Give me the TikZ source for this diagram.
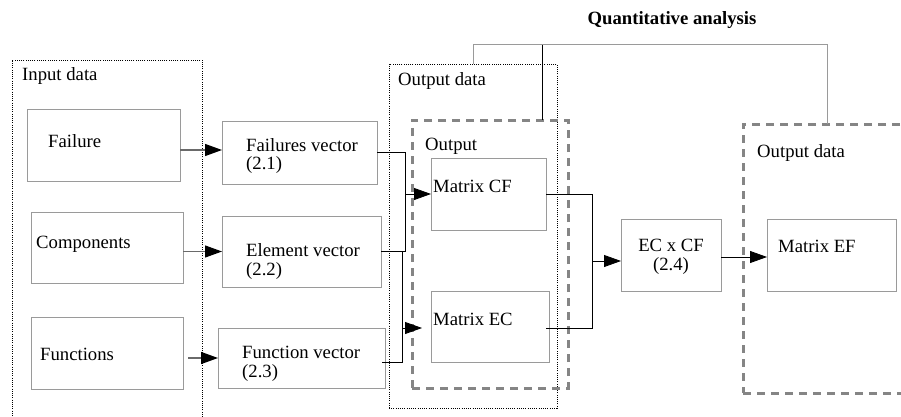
\documentclass[tikz,border=0pt]{standalone}
\usepackage{fontspec}
\setmainfont{Liberation Serif}
\newfontfamily\tnr{Liberation Serif}
\usetikzlibrary{arrows.meta,calc}
\definecolor{boxgray}{HTML}{9A9A9A}
\definecolor{dashgray}{HTML}{858585}
\definecolor{linegray}{HTML}{6A6A6A}
\tikzset{
  box/.style={draw=boxgray, line width=0.9pt, inner sep=0pt, outer sep=0pt, anchor=north west},
  dotbox/.style={draw=black, line width=0.8pt, dash pattern=on 1pt off 1.2pt, inner sep=0pt, outer sep=0pt, anchor=north west},
  dashbox/.style={draw=dashgray, line width=3pt, dash pattern=on 8pt off 6pt, inner sep=0pt, outer sep=0pt, anchor=north west},
  txt/.style={anchor=base west, inner sep=0pt, font=\tnr\fontsize{18.7}{22}\selectfont},
  conn/.style={draw=black, line width=0.8pt},
  tip/.style={-{Triangle[length=17pt,width=12pt,fill=black,color=black]}},
  arr/.style={conn, tip},
  inarr/.style={draw=linegray, line width=1.2pt, tip},
  brk/.style={draw=boxgray, line width=1pt}
}
\begin{document}
\begin{tikzpicture}[x=1pt,y=-1pt]
\useasboundingbox (0,0) rectangle (901,417);
% containers
\node[dotbox, minimum width=190pt, minimum height=365pt] (indata) at (12,60) {};
\node[dotbox, minimum width=168pt, minimum height=344pt] (outdata) at (389,64) {};
\node[dashbox, minimum width=156pt, minimum height=268pt] (outdash) at (412,120) {};
\node[dashbox, minimum width=175pt, minimum height=269pt] (rdash) at (743,124) {};
% boxes
\node[box, minimum width=153pt, minimum height=72pt] (fail) at (27,109) {};
\node[box, minimum width=152pt, minimum height=71pt] (comp) at (31,212) {};
\node[box, minimum width=152pt, minimum height=72pt] (fnc) at (31,317) {};
\node[box, minimum width=155pt, minimum height=63pt] (fv) at (222,121) {};
\node[box, minimum width=159pt, minimum height=71pt] (ev) at (222,216) {};
\node[box, minimum width=167pt, minimum height=60pt] (fnv) at (218,328) {};
\node[box, minimum width=115pt, minimum height=72pt] (cf) at (431,158) {};
\node[box, minimum width=118pt, minimum height=71pt] (ec) at (431,291) {};
\node[box, minimum width=100pt, minimum height=72pt] (ecxcf) at (621,219) {};
\node[box, minimum width=129pt, minimum height=72pt] (ef) at (767,219) {};
% texts
\node[txt] (tin) at (22,81) {Input data};
\node[txt] (tfail) at (48,147) {Failure};
\node[txt] (tcomp) at (36,248) {Components};
\node[txt] (tfnc) at (40,360) {Functions};
\node[txt] (tfv1) at (246,151) {Failures vector};
\node[txt] (tfv2) at (246,169) {(2.1)};
\node[txt] (tev1) at (246,256) {Element vector};
\node[txt] (tev2) at (246,275) {(2.2)};
\node[txt] (tfnv1) at (242,358) {Function vector};
\node[txt] (tfnv2) at (242,377) {(2.3)};
\node[txt] (tod) at (398,86) {Output data};
\node[txt] (tout) at (425,150) {Output};
\node[txt] (tcf) at (433,192) {Matrix CF};
\node[txt] (tec) at (433,325) {Matrix EC};
\node[txt, anchor=base] (tx1) at (671,251) {EC x CF};
\node[txt, anchor=base] (tx2) at (671,270) {(2.4)};
\node[txt] (tef) at (778,252) {Matrix EF};
\node[txt] (tod2) at (757,157) {Output data};
\node[txt, anchor=base, font=\tnr\fontsize{18.7}{22}\selectfont\bfseries] (tq) at (672,25) {Quantitative analysis};
% input arrows
\draw[inarr] ($(fail.east)+(0,5)$) -- ($(fv.west)+(0,-2.5)$);
\draw[inarr] (comp.east |- ev.west) -- (ev.west);
\draw[inarr] ($(fnc.east |- fnv.west)+(5,0)$) -- (fnv.west);
% vectors to matrices
\draw[conn] (ev.east) -| ($(cf.west)+(-26,0)$);
\draw[arr] (fv.east) -| ($(cf.west)+(-26,0)$) -- (cf.west);
\draw[conn] ($(fnv.east)+(-3,4)$) -| ($(ev.east)+(21,0)$);
\draw[arr, shorten >=9pt] ($(ec.west)+(-29,1.5)$) -- ($(ec.west)+(0,1.5)$);
% matrices to product
\draw[conn] (cf.east) -| ($(ecxcf.west)+(-29,0)$) |- ($(ec.east)+(-3,1.5)$);
\draw[arr] ($(ecxcf.west)+(-29,6)$) -- ($(ecxcf.west)+(0,6)$);
\draw[arr] ($(ecxcf.east)+(0,2)$) -- ($(ef.west)+(0,2)$);
% quantitative analysis bracket
\coordinate (qL) at (473,45);
\coordinate (qR) at (827,45);
\coordinate (qM) at (542,45);
\draw[brk] (qL |- outdata.north) -- (qL) -- (qR) -- (qR |- rdash.north);
\draw[conn] (qM) -- (qM |- outdash.north);
\end{tikzpicture}
\end{document}
